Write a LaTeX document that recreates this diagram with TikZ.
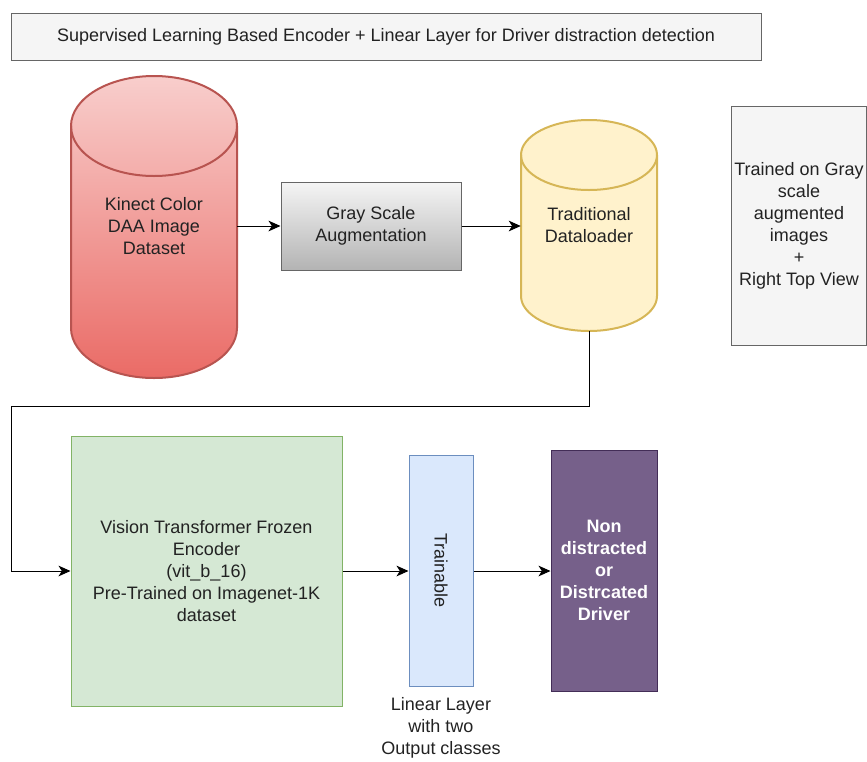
\documentclass[tikz,border=0pt]{standalone}
\usepackage{fontspec}
\setmainfont{Liberation Sans}
\usetikzlibrary{arrows.meta}
\usetikzlibrary{positioning}
\definecolor{txt}{HTML}{222222}
\definecolor{greyfill}{HTML}{F5F5F5}
\definecolor{greyshade}{HTML}{B3B3B3}
\definecolor{greyline}{HTML}{666666}
\definecolor{redtop}{HTML}{F8CECC}
\definecolor{redbot}{HTML}{EA6B66}
\definecolor{redline}{HTML}{B85450}
\definecolor{yelfill}{HTML}{FFF2CC}
\definecolor{yelline}{HTML}{D6B656}
\definecolor{grnfill}{HTML}{D5E8D4}
\definecolor{grnline}{HTML}{82B366}
\definecolor{blufill}{HTML}{DAE8FC}
\definecolor{bluline}{HTML}{6C8EBF}
\definecolor{purfill}{HTML}{76608A}
\definecolor{purline}{HTML}{432D57}
\tikzset{label text/.style = {align=center, text=txt,
                              font=\fontsize{13.5}{16.5}\selectfont}}
\tikzset{block/.style = {label text, draw, line width=0.75pt, inner sep=0pt}}
\tikzset{cyl/.style = {line width=1.5pt}}
\tikzset{flow/.style = {-{Stealth[length=9pt, width=8pt, inset=2.5pt]},
                        line width=0.75pt, black}}

\begin{document}
\begin{tikzpicture}[x=0.75pt, y=-0.75pt]
      \useasboundingbox (0,0) rectangle (867,761);

      \node [block, fill=greyfill, draw=greyline, minimum width=562.5pt, minimum height=35.25pt]
        (title) at (386,36.5) {Supervised Learning Based Encoder + Linear Layer for Driver distraction detection};

      % data set cylinder
      \draw [cyl, draw=redline, top color=redtop, bottom color=redbot]
        (71,126) -- (71,328) arc [start angle=180, end angle=0, x radius=83, y radius=50]
        -- (237,126) arc [start angle=0, end angle=-180, x radius=83, y radius=50] -- cycle;
      \draw [cyl, redline] (71,126) arc [start angle=180, end angle=0, x radius=83, y radius=50];
      \node [label text, minimum width=124.5pt, minimum height=226.5pt] (kinect) at (154,226)
        {Kinect Color\\DAA Image\\Dataset};

      \node [block, draw=greyline, top color=greyfill, bottom color=greyshade,
             minimum width=135pt, minimum height=66pt] (gray) at (371,226)
        {Gray Scale\\Augmentation};

      % loader cylinder
      \draw [cyl, draw=yelline, fill=yelfill]
        (521,155) -- (521,296) arc [start angle=180, end angle=0, x radius=68, y radius=35]
        -- (657,155) arc [start angle=0, end angle=-180, x radius=68, y radius=35] -- cycle;
      \draw [cyl, yelline] (521,155) arc [start angle=180, end angle=0, x radius=68, y radius=35];
      \node [label text, minimum width=102pt, minimum height=158.25pt] (loader) at (589,225.5)
        {Traditional\\Dataloader};

      \node [block, fill=greyfill, draw=greyline, minimum width=101.25pt, minimum height=179.25pt]
        (note) at (799,225.5) {Trained on Gray\\scale\\augmented\\images\\+\\Right Top View};

      \node [block, fill=grnfill, draw=grnline, minimum width=203.25pt, minimum height=202.5pt]
        (vit) at (206.5,571)
        {Vision Transformer Frozen\\Encoder\\(vit\_b\_16)\\Pre-Trained on Imagenet-1K\\dataset};

      \node [block, fill=blufill, draw=bluline, minimum width=48pt, minimum height=173.25pt]
        (linear) at (441,570.5) {};
      \node [label text, rotate=-90] (trainable) at (linear.center) {Trainable};
      \node [label text, below=5pt of linear] (linlabel) {Linear Layer\\with two\\Output classes};

      \node [block, fill=purfill, draw=purline, text=white, font=\fontsize{13.5}{16.5}\selectfont\bfseries,
             minimum width=79.5pt, minimum height=180.75pt] (output) at (604,570.5)
        {Non\\distracted\\or\\Distrcated\\Driver};

      \coordinate (loopcorner) at (11,406);

      \draw [flow] (kinect.east) -- (gray.west);
      \draw [flow] (gray.east) -- (gray.east -| loader.west);
      \draw [flow] (loader.south) |- (loopcorner) |- (vit.west);
      \draw [flow] (vit.east) -- (vit.east -| linear.west);
      \draw [flow] (linear.east |- vit.east) -- (output.west |- vit.east);
    \end{tikzpicture}
\end{document}
